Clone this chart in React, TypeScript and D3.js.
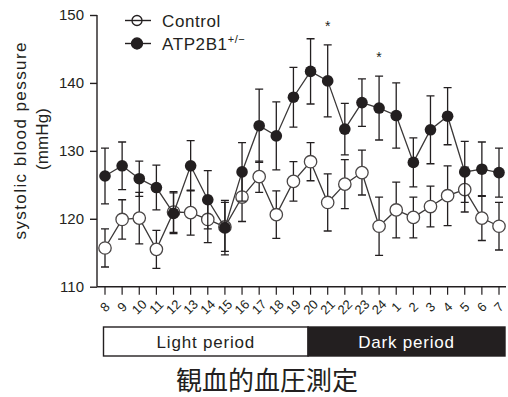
import { useEffect, useRef } from "react";
import * as d3 from "d3";

const hours = ["8", "9", "10", "11", "12", "13", "14", "15", "16", "17", "18", "19", "20", "21", "22", "23", "24", "1", "2", "3", "4", "5", "6", "7"];
const controlMean = [115.7, 119.9, 120.1, 115.5, 121.0, 120.9, 119.9, 118.8, 123.2, 126.2, 120.6, 125.5, 128.4, 122.4, 125.1, 126.8, 118.9, 121.3, 120.2, 121.8, 123.4, 124.3, 120.1, 118.9];
const controlSem = [2.8, 2.9, 3.8, 2.8, 3.0, 3.3, 3.4, 3.6, 3.6, 2.3, 3.5, 2.9, 2.8, 4.2, 3.6, 3.3, 4.3, 4.1, 3.0, 3.0, 4.4, 3.3, 3.3, 3.5];
const hetMean = [126.3, 127.8, 125.9, 124.6, 120.8, 127.8, 122.8, 118.7, 126.9, 133.7, 132.2, 137.9, 141.7, 140.3, 133.2, 137.1, 136.3, 135.2, 128.3, 133.1, 135.1, 126.9, 127.3, 126.8];
const hetSem = [4.1, 3.5, 2.6, 3.3, 3.0, 3.7, 4.3, 4.0, 4.3, 5.4, 5.0, 4.4, 4.8, 5.3, 3.8, 3.5, 4.7, 4.8, 3.6, 5.0, 4.2, 4.5, 4.0, 3.6];
const sigHours = ["21", "24"];
const yTicks = [110, 120, 130, 140, 150];
const periodLabels = ["Light period", "Dark period"];
const periodStart = ["8", "20"];

const FONT = "'Liberation Sans', Arial, sans-serif";
const INK = "#231f20";

export default function App() {
  const ref = useRef<SVGSVGElement>(null);

  useEffect(() => {
    if (!ref.current) return;
    const svg = d3.select(ref.current);
    svg.selectAll("*").remove();
    const w = 508;

    const x = d3.scalePoint<string>().domain(hours).range([105, 499]);
    const y = d3.scaleLinear().domain([110, 150]).range([286.7, 15]);
    const axisX = 97;

    // y axis
    svg.append("g")
      .attr("transform", `translate(${axisX},0)`)
      .call(d3.axisLeft(y).tickValues(yTicks).tickSize(7).tickPadding(6))
      .call((g) => g.select(".domain").attr("stroke", INK).attr("stroke-width", 1.4).attr("d", `M0,${y(150)}V${y(110)}`))
      .call((g) => g.selectAll("line").attr("stroke", INK).attr("stroke-width", 1.4))
      .call((g) => g.selectAll("text").attr("font-family", FONT).attr("font-size", 15).attr("fill", INK));

    // x axis
    svg.append("line")
      .attr("x1", axisX).attr("x2", w - 2)
      .attr("y1", y(110)).attr("y2", y(110))
      .attr("stroke", INK).attr("stroke-width", 1.4);
    hours.forEach((hr) => {
      svg.append("line")
        .attr("x1", x(hr)!).attr("x2", x(hr)!)
        .attr("y1", y(110)).attr("y2", y(110) + 8)
        .attr("stroke", INK).attr("stroke-width", 1.2);
      svg.append("text")
        .attr("x", x(hr)!).attr("y", 307)
        .attr("transform", `rotate(-45,${x(hr)},307)`)
        .attr("text-anchor", "middle").attr("dominant-baseline", "central")
        .attr("font-family", FONT).attr("font-size", 13).attr("fill", INK)
        .text(hr);
    });

    // y label
    const yl = svg.append("g").attr("font-family", FONT).attr("fill", INK).attr("font-size", 17);
    yl.append("text")
      .attr("transform", "translate(26,141) rotate(-90)")
      .attr("text-anchor", "middle")
      .attr("textLength", 197).attr("lengthAdjust", "spacing")
      .text("systolic blood pessure");
    yl.append("text")
      .attr("transform", "translate(48,139) rotate(-90)")
      .attr("text-anchor", "middle")
      .attr("textLength", 62).attr("lengthAdjust", "spacing")
      .text("(mmHg)");

    const series = [
      { mean: controlMean, sem: controlSem, filled: false },
      { mean: hetMean, sem: hetSem, filled: true },
    ];

    series.forEach((s) => {
      const pts = hours.map((hr, i) => ({ hr, m: s.mean[i], e: s.sem[i] }));
      const g = svg.append("g");
      // error bars
      pts.forEach((p) => {
        const cx = x(p.hr)!;
        g.append("path")
          .attr("d", `M${cx},${y(p.m - p.e)}V${y(p.m + p.e)}M${cx - 4},${y(p.m + p.e)}H${cx + 4}M${cx - 4},${y(p.m - p.e)}H${cx + 4}`)
          .attr("stroke", INK).attr("stroke-width", 1.3).attr("fill", "none");
      });
      const line = d3.line<{ hr: string; m: number }>()
        .x((d) => x(d.hr)!)
        .y((d) => y(d.m));
      g.append("path")
        .datum(pts)
        .attr("d", line as any)
        .attr("fill", "none").attr("stroke", "#3b3838").attr("stroke-width", 1.3);
      g.selectAll("circle").data(pts).join("circle")
        .attr("cx", (d) => x(d.hr)!).attr("cy", (d) => y(d.m))
        .attr("r", s.filled ? 5.8 : 6.2)
        .attr("fill", s.filled ? INK : "white")
        .attr("stroke", s.filled ? "none" : "#4a4646").attr("stroke-width", 1.3);
    });

    // significance
    sigHours.forEach((hr) => {
      const i = hours.indexOf(hr);
      svg.append("text")
        .attr("x", x(hr)!).attr("y", y(hetMean[i] + hetSem[i]) - 14)
        .attr("text-anchor", "middle")
        .attr("font-family", FONT).attr("font-size", 14).attr("fill", INK)
        .text("*");
    });

    // legend
    const lg = svg.append("g").attr("font-family", FONT).attr("fill", INK);
    [{ y: 20.5, filled: false }, { y: 43.5, filled: true }].forEach((r) => {
      lg.append("line").attr("x1", 125).attr("x2", 151).attr("y1", r.y).attr("y2", r.y)
        .attr("stroke", INK).attr("stroke-width", 1.4);
      lg.append("circle").attr("cx", 137).attr("cy", r.y).attr("r", r.filled ? 5.5 : 5)
        .attr("fill", r.filled ? INK : "none").attr("stroke", INK).attr("stroke-width", 1.3);
    });
    lg.append("text").attr("x", 162).attr("y", 26.5).attr("font-size", 17).attr("letter-spacing", 0.6).text("Control");
    const t2 = lg.append("text").attr("x", 162).attr("y", 50).attr("font-size", 17).attr("letter-spacing", 0.6);
    t2.append("tspan").text("ATP2B1");
    t2.append("tspan").attr("dy", -7).attr("font-size", 11).text("+/−");

    // period boxes
    const bx = [x(periodStart[0])! - 1.5, x(periodStart[1])! - 2.5, x(hours[hours.length - 1])! + 6];
    periodLabels.forEach((lab, i) => {
      svg.append("rect")
        .attr("x", bx[i]).attr("y", 327)
        .attr("width", bx[i + 1] - bx[i]).attr("height", 29)
        .attr("fill", i === 0 ? "white" : INK).attr("stroke", INK).attr("stroke-width", 1.4);
      svg.append("text")
        .attr("x", (bx[i] + bx[i + 1]) / 2).attr("y", 348)
        .attr("text-anchor", "middle")
        .attr("font-family", FONT).attr("font-size", 17).attr("letter-spacing", 0.8)
        .attr("fill", i === 0 ? INK : "white")
        .text(lab);
    });

    // caption
    svg.append("text")
      .attr("x", 267).attr("y", 390)
      .attr("text-anchor", "middle")
      .attr("font-family", "'Noto Sans CJK JP', sans-serif").attr("font-size", 26).attr("fill", INK)
      .text("観血的血圧測定");
  }, []);

  return (
    <svg
      ref={ref}
      width={508}
      height={397}
      viewBox="0 0 508 397"
      style={{ position: "absolute", left: 0, top: 0, display: "block", background: "white" }}
    />
  );
}
